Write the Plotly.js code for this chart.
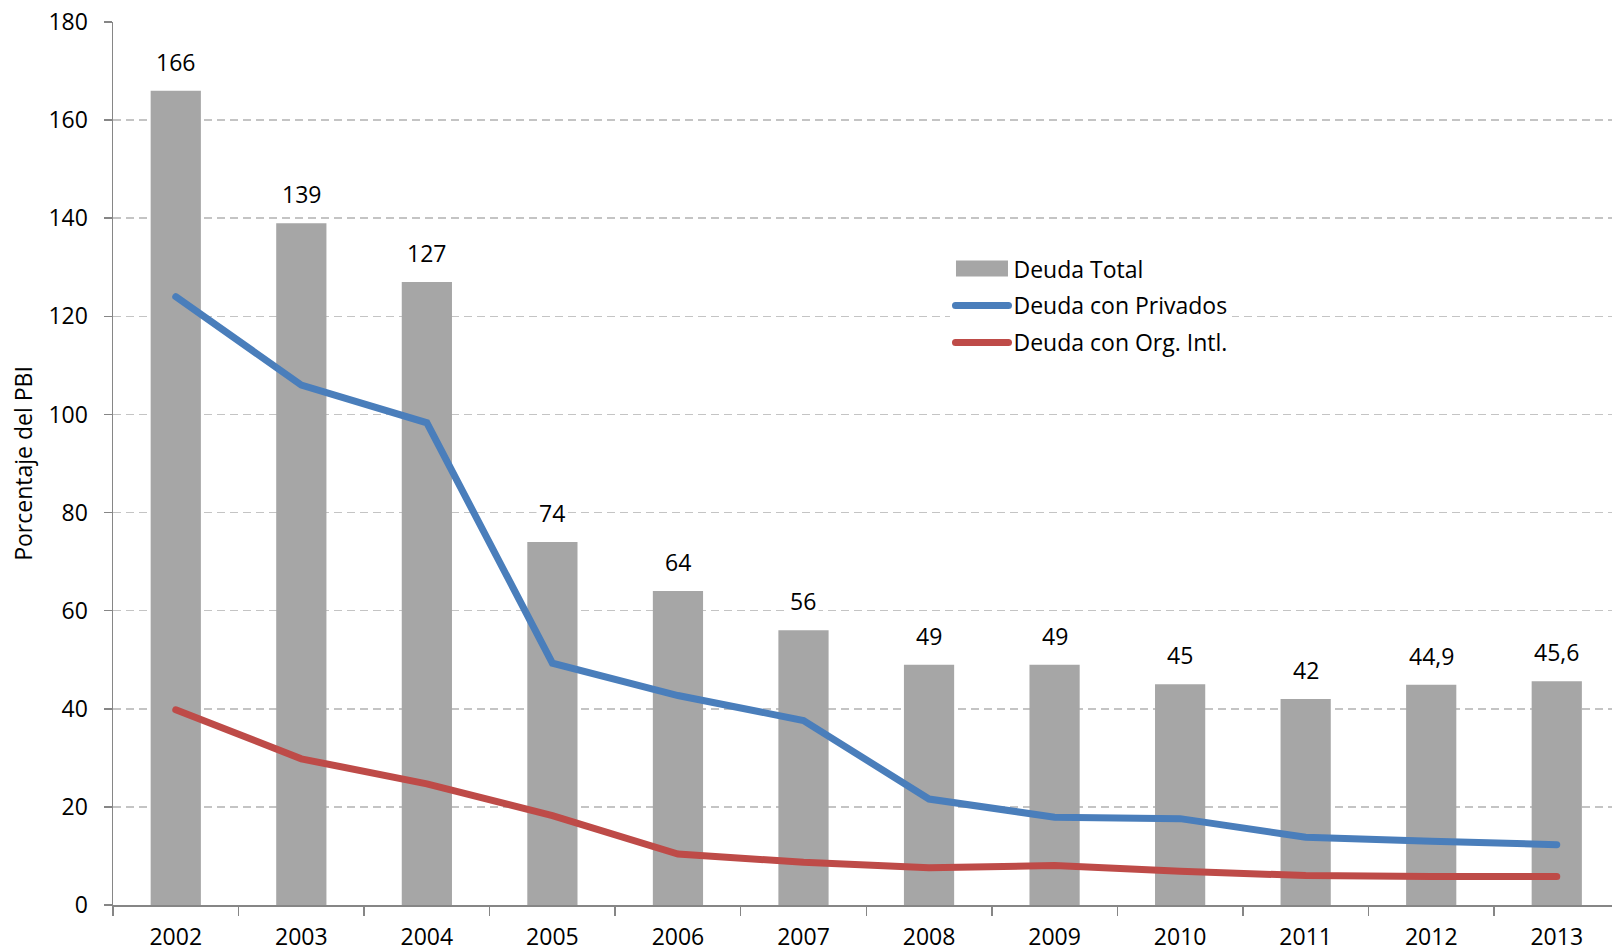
<!DOCTYPE html>
<html>
<head>
<meta charset="utf-8">
<script src="https://cdn.plot.ly/plotly-3.0.1.min.js"></script>
<style>
  html, body { margin: 0; padding: 0; background: #ffffff; overflow: hidden; }
  #chart { width: 1612px; height: 951px; }
  #chart .js-line { stroke-linecap: round; }
  /* wide rectangular swatch for the bar entry of the legend */
  #chart .legend .traces:first-child .legendpoints path { d: path("M26,8H-26V-8H26Z"); }
</style>
</head>
<body>
<div id="chart"></div>
<script>
// Deuda pública como porcentaje del PBI, 2002-2013
const years = ['2002', '2003', '2004', '2005', '2006', '2007', '2008', '2009', '2010', '2011', '2012', '2013'];
const deudaTotal = [166, 139, 127, 74, 64, 56, 49, 49, 45, 42, 44.9, 45.6];
const deudaPrivados = [124, 106, 98.3, 49.3, 42.7, 37.6, 21.6, 17.9, 17.6, 13.8, 13.0, 12.3];
const deudaOrgIntl = [39.8, 29.8, 24.7, 18.2, 10.4, 8.7, 7.6, 8.05, 6.9, 6.0, 5.8, 5.8];
const yTicks = [0, 20, 40, 60, 80, 100, 120, 140, 160, 180];

const FONT = 'Open Sans, Noto Sans, sans-serif';
const FS = 23;
const AXIS_GREY = '#868686';

// Etiquetas con coma decimal
const fmt = v => String(v).replace('.', ',');

const traces = [
  {
    type: 'bar',
    name: 'Deuda Total',
    x: years,
    y: deudaTotal,
    width: 0.4,
    marker: { color: '#a6a6a6' },
    legendgroup: 'a'
  },
  {
    type: 'scatter',
    mode: 'lines',
    name: 'Deuda con Privados',
    x: years,
    y: deudaPrivados,
    line: { color: '#4a7ebb', width: 7 },
    legendgroup: 'b'
  },
  {
    type: 'scatter',
    mode: 'lines',
    name: 'Deuda con Org. Intl.',
    x: years,
    y: deudaOrgIntl,
    line: { color: '#be4b48', width: 7 },
    legendgroup: 'c'
  }
];

// Rótulos de valor sobre cada barra (posición por índice de categoría)
const labels = deudaTotal.map((v, i) => ({
  x: i,
  y: v,
  xref: 'x',
  yref: 'y',
  text: fmt(v),
  showarrow: false,
  xanchor: 'center',
  yanchor: 'middle',
  yshift: 29,
  bgcolor: '#ffffff',
  borderpad: 2,
  font: { family: FONT, size: FS, color: '#000000' }
}));

const layout = {
  width: 1612,
  height: 951,
  paper_bgcolor: '#ffffff',
  plot_bgcolor: '#ffffff',
  margin: { l: 113, r: 0, t: 22, b: 46, pad: 0 },
  font: { family: FONT, size: FS, color: '#000000' },
  showlegend: true,
  legend: {
    x: 0.5587,
    xanchor: 'left',
    y: 0.745,
    yanchor: 'top',
    bgcolor: '#ffffff',
    borderwidth: 0,
    traceorder: 'grouped',
    tracegroupgap: 4,
    itemwidth: 53,
    font: { family: FONT, size: FS, color: '#000000' }
  },
  xaxis: {
    type: 'category',
    range: [-0.5, 11.44],
    showline: true,
    linecolor: AXIS_GREY,
    linewidth: 1.5,
    ticks: 'outside',
    tickson: 'boundaries',
    ticklen: 9,
    tickwidth: 1.5,
    tickcolor: AXIS_GREY,
    ticklabelstandoff: 11,
    showgrid: false,
    zeroline: false,
    tickfont: { family: FONT, size: FS, color: '#000000' }
  },
  yaxis: {
    range: [0, 180],
    tickvals: yTicks,
    showline: true,
    linecolor: AXIS_GREY,
    linewidth: 1.5,
    ticks: 'outside',
    ticklen: 8,
    tickwidth: 1.5,
    tickcolor: AXIS_GREY,
    ticklabelstandoff: 11,
    showgrid: true,
    gridcolor: '#c4c4c4',
    gridwidth: 1.5,
    griddash: '8px,5px',
    zeroline: false,
    tickfont: { family: FONT, size: FS, color: '#000000' },
    title: {
      text: 'Porcentaje del PBI',
      standoff: 9,
      font: { family: FONT, size: FS, color: '#000000' }
    }
  },
  annotations: labels
};

Plotly.newPlot('chart', traces, layout, { displayModeBar: false, staticPlot: true });
</script>
</body>
</html>
